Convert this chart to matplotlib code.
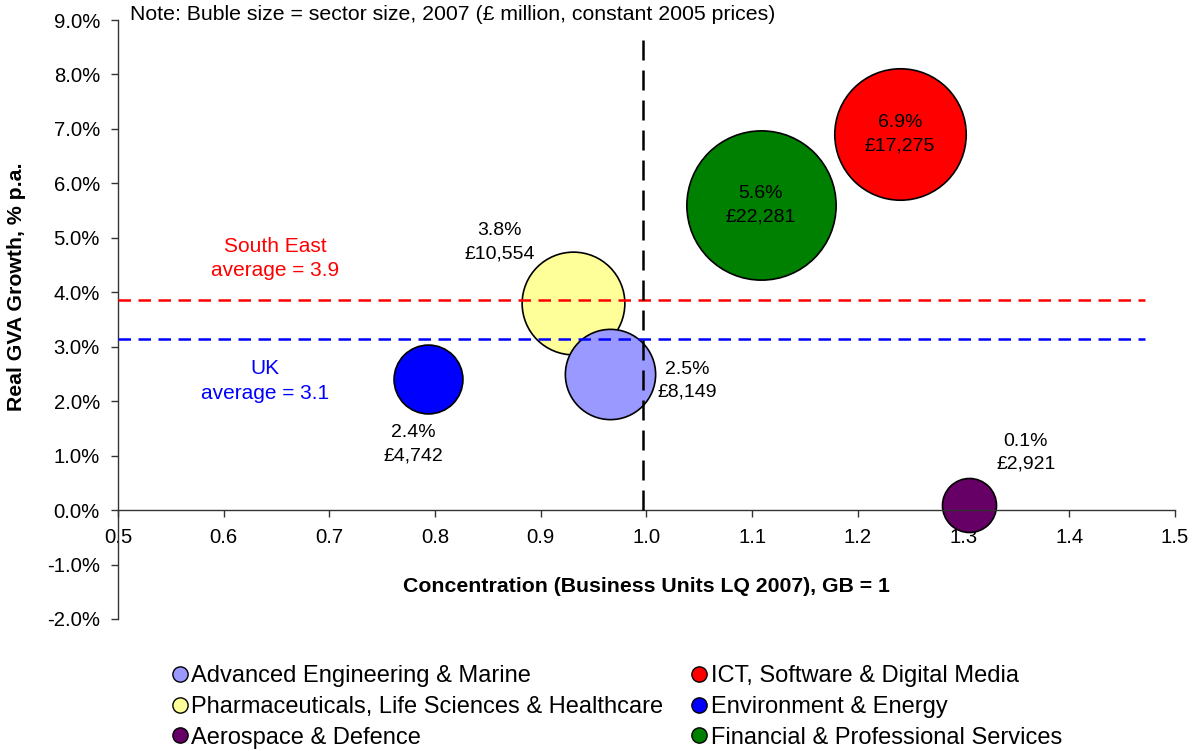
import numpy as np
import matplotlib.pyplot as plt
from matplotlib.ticker import FuncFormatter

plt.rcParams['font.family'] = ['Liberation Sans', 'DejaVu Sans']

sectors = ['Advanced Engineering & Marine',
           'Pharmaceuticals, Life Sciences & Healthcare',
           'Aerospace & Defence',
           'ICT, Software & Digital Media',
           'Environment & Energy',
           'Financial & Professional Services']
concentration = [0.965, 0.930, 1.305, 1.240, 0.793, 1.108]
growth = [2.5, 3.8, 0.1, 6.9, 2.4, 5.6]
gva = [8149, 10554, 2921, 17275, 4742, 22281]
colors = ['#9999ff', '#ffff99', '#660066', '#ff0000', '#0000ff', '#008000']

se_avg = 3.85
uk_avg = 3.15

fig = plt.figure(figsize=(11.97, 7.51), dpi=100)
ax = fig.add_axes([118 / 1197, 1 - 619 / 751, (1175 - 118) / 1197, (619 - 20) / 751])

# bubble area proportional to sector size
draw_order = [1, 0, 4, 2, 3, 5]
for i in draw_order:
    ax.scatter(concentration[i], growth[i], s=0.5184 * gva[i], color=colors[i],
               edgecolors='black', linewidths=1.2, zorder=2)

ax.plot([0.5, 1.472], [se_avg, se_avg], color='#ff0000', lw=1.8,
        dashes=(5, 3), zorder=3)
ax.plot([0.5, 1.472], [uk_avg, uk_avg], color='#0000ff', lw=1.8,
        dashes=(5, 3), zorder=3)
ax.plot([0.997, 0.997], [0, 8.7], color='black', lw=1.8,
        dashes=(8, 4), zorder=3)

ax.text(0.649, 4.62, 'South East\naverage = 3.9', color='#ff0000', fontsize=15,
        ha='center', va='center', linespacing=1.38)
ax.text(0.639, 2.37, 'UK\naverage = 3.1', color='#0000ff', fontsize=15,
        ha='center', va='center', linespacing=1.38)

# value labels: growth and GVA
label_pos = [(1.039, 2.38), (0.861, 4.92), (1.359, 1.05),
             (1.240, 6.9), (0.779, 1.21), (1.108, 5.6)]
for i, (lx, ly) in enumerate(label_pos):
    ax.text(lx, ly, f'{growth[i]:.1f}%\n£{gva[i]:,}', fontsize=14,
            ha='center', va='center', linespacing=1.45, zorder=4)

fig.text(130 / 1197, 1 - 15 / 751,
         'Note: Buble size = sector size, 2007 (£ million, constant 2005 prices)',
         fontsize=15.3, ha='left', va='center')

ax.set_xlim(0.5, 1.5)
ax.set_ylim(-2, 9)
ax.set_xticks(np.arange(0.5, 1.51, 0.1))
ax.set_yticks(np.arange(-2, 9.1, 1))
ax.xaxis.set_major_formatter(FuncFormatter(lambda v, p: f'{v:.1f}'))
ax.yaxis.set_major_formatter(FuncFormatter(lambda v, p: f'{v:.1f}%'))
ax.spines['bottom'].set_position(('data', 0))
ax.spines['top'].set_visible(False)
ax.spines['right'].set_visible(False)
for s in ('bottom', 'left'):
    ax.spines[s].set_color('#333333')
    ax.spines[s].set_linewidth(1.0)
ax.tick_params(axis='both', direction='out', length=5, width=1.0,
               color='#333333', labelsize=14.6, pad=8)

fig.text(646 / 1197, 1 - 587 / 751,
         'Concentration (Business Units LQ 2007), GB = 1',
         fontsize=15.3, fontweight='bold', ha='center', va='center')
fig.text(17 / 1197, 1 - 287 / 751, 'Real GVA Growth, % p.a.',
         fontsize=15.3, fontweight='bold', ha='center', va='center',
         rotation=90)

handles = [plt.Line2D([], [], marker='o', ls='none', markersize=11,
                      markerfacecolor=c, markeredgecolor='black',
                      markeredgewidth=1.0) for c in colors]
fig.legend(handles, sectors, ncol=2, loc='upper left',
           bbox_to_anchor=(156 / 1197, 1 - 653 / 751), frameon=False,
           fontsize=17, handletextpad=0.0, columnspacing=1.0,
           labelspacing=0.38, handlelength=1.0, borderpad=0)

fig.savefig('out.png', dpi=100)
